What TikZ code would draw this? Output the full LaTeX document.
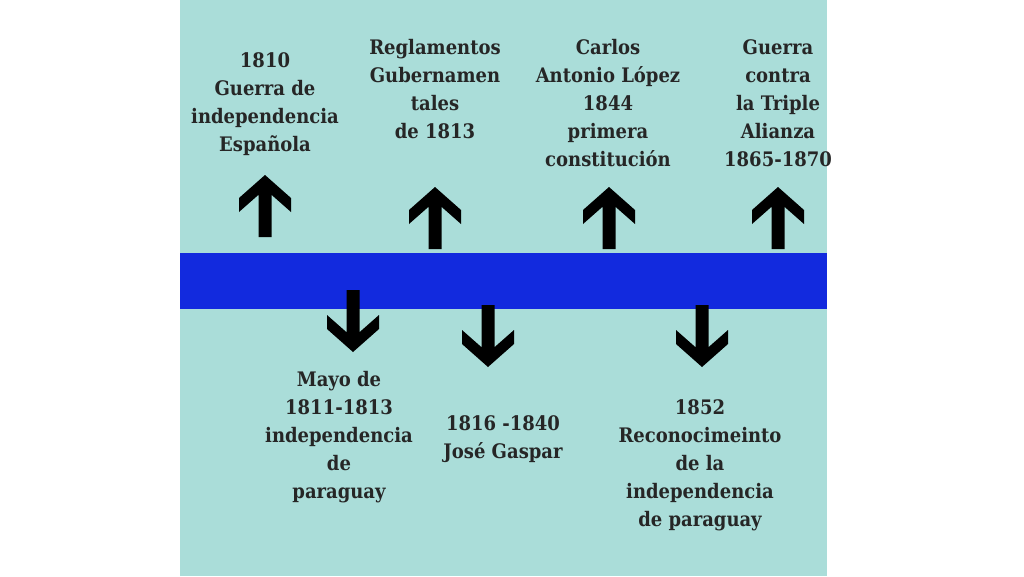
\documentclass[tikz,border=0pt]{standalone}
\usepackage{fontspec}
\setmainfont{DejaVu Serif Condensed}
\usetikzlibrary{positioning}
\definecolor{fondo}{RGB}{170,221,217}
\definecolor{barra}{RGB}{18,42,222}
\definecolor{letra}{RGB}{38,38,38}

\begin{document}
\begin{tikzpicture}[x=1pt,y=-1pt,
    texto/.style={align=center,text=letra,inner sep=0pt,font=\fontsize{20}{28}\selectfont\bfseries},
    flecha/.pic={\fill[black] (0,0) -- (26,23) -- (26,37) -- (6.5,19.8) -- (6.5,62)
        -- (-6.5,62) -- (-6.5,19.8) -- (-26,37) -- (-26,23) -- cycle;}]
         \useasboundingbox (0,0) rectangle (1024,576);
         \fill[white] (0,0) rectangle (1024,576);
         \fill[fondo] (180,0) rectangle (827,576);
         \fill[barra] (180,253) rectangle (827,309);
         % flechas hacia arriba
         \pic at (265,175) {flecha};
         \pic at (435,187) {flecha};
         \pic at (609,187) {flecha};
         \pic at (778,187) {flecha};
         % flechas hacia abajo
         \pic[rotate=180] at (353,352) {flecha};
         \pic[rotate=180] at (488,367) {flecha};
         \pic[rotate=180] at (702,367) {flecha};
         % textos arriba
         \node[texto] (e1810) at (265,104) {1810\\Guerra de\\independencia\\Española};
         \node[texto] (reglamentos) at (435,89) {Reglamentos\\Gubernamen\\tales\\de 1813};
         \node[texto] (lopez) at (608,103) {Carlos\\Antonio López\\1844\\primera\\constitución};
         \node[texto] (triple) at (778,103) {Guerra\\contra\\la Triple\\Alianza\\1865-1870};
         % textos abajo
         \node[texto] (mayo) at (339,437) {Mayo de\\1811-1813\\independencia\\de\\paraguay};
         \node[texto] (gaspar) at (503,439) {1816 -1840\\José Gaspar};
         \node[texto] (e1852) at (700,465) {1852\\Reconocimeinto\\de la\\independencia\\de paraguay};
\end{tikzpicture}
\end{document}
